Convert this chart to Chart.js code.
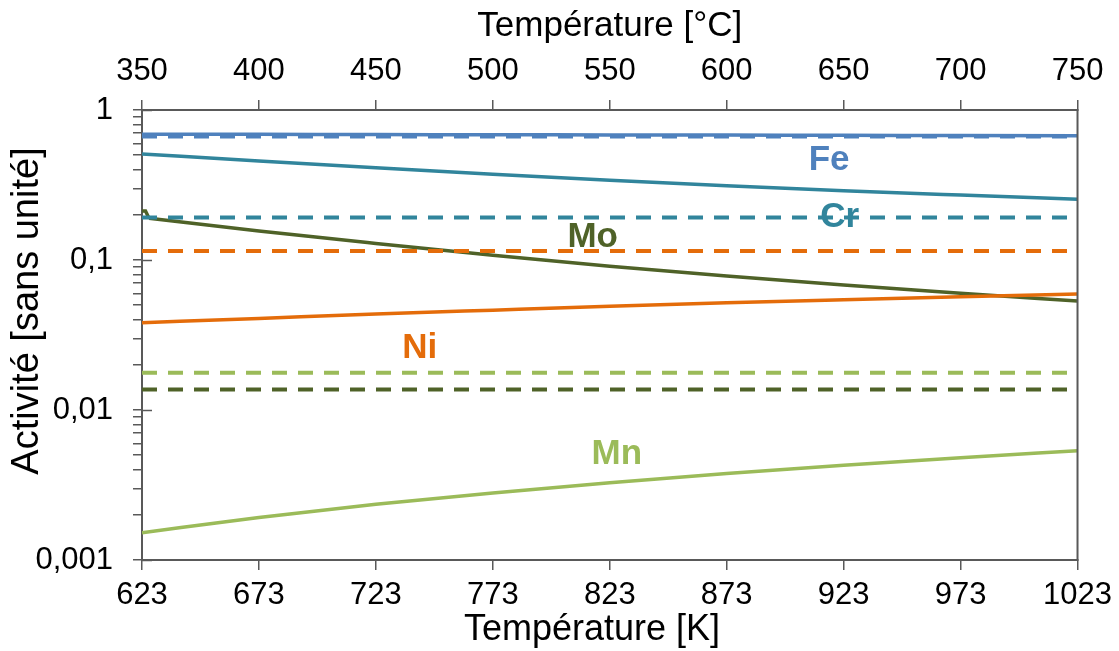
<!DOCTYPE html>
<html>
<head>
<meta charset="utf-8">
<script src="https://cdn.jsdelivr.net/npm/chart.js@4"></script>
<style>
  html, body { margin: 0; padding: 0; background: #fff; }
  #wrap { width: 1119px; height: 651px; }
</style>
</head>
<body>
<div id="wrap"><canvas id="activityChart"></canvas></div>
<script>
// temperatures (K) for the computed curves
const kelvin = [623, 673, 723, 773, 823, 873, 923, 973, 1023];
const moKelvin = [626, 673, 723, 773, 823, 873, 923, 973, 1023];
const moHookKelvin = [623, 624.5, 626];
const dashKelvin = [623, 1023];

// activities
const feActivity = [0.690, 0.688, 0.686, 0.684, 0.682, 0.680, 0.678, 0.676, 0.674];
const crActivity = [0.509, 0.457, 0.412, 0.373, 0.340, 0.313, 0.290, 0.271, 0.254];
const moActivity = [0.190, 0.156, 0.129, 0.1076, 0.0910, 0.0782, 0.0681, 0.0600, 0.0533];
const moHookActivity = [0.212, 0.212, 0.190];
const niActivity = [0.0382, 0.0408, 0.0436, 0.0463, 0.0491, 0.0518, 0.0543, 0.0568, 0.0593];
const mnActivity = [0.00152, 0.00192, 0.00235, 0.00280, 0.00327, 0.00377, 0.00428, 0.00480, 0.00535];

// dashed reference levels
const feRef = [0.665, 0.665];
const crRef = [0.192, 0.192];
const niRef = [0.115, 0.115];
const mnRef = [0.0177, 0.0177];
const moRef = [0.0137, 0.0137];

// axes
const kelvinTicks = [623, 673, 723, 773, 823, 873, 923, 973, 1023];
const celsiusTicks = [350, 400, 450, 500, 550, 600, 650, 700, 750];
const yMajorTicks = [0.001, 0.01, 0.1, 1];
const yMajorLabels = ['0,001', '0,01', '0,1', '1'];

// element names placed on the plot (K, activity)
const tagNames = ['Fe', 'Cr', 'Mo', 'Ni', 'Mn'];
const tagKelvin = [916.8, 921.3, 815.7, 741.8, 826];
const tagActivity = [0.398, 0.166, 0.122, 0.0222, 0.00437];

const colors = {
  Fe: '#4F81BD',
  Cr: '#31859C',
  Mo: '#4F6228',
  Ni: '#E46C0A',
  Mn: '#9BBB59'
};
const axisColor = '#595959';
const fontFamily = "'Liberation Sans', Arial, sans-serif";

function pts(xs, ys) {
  return xs.map((x, i) => ({ x: x, y: ys[i] }));
}

function solid(name, xs, ys, smooth) {
  return {
    label: name,
    data: pts(xs, ys),
    borderColor: colors[name],
    borderWidth: 3.5,
    pointRadius: 0,
    cubicInterpolationMode: smooth ? 'monotone' : 'default',
    tension: 0,
    fill: false
  };
}

function dashed(name, ys) {
  return {
    label: name + ' ref',
    data: pts(dashKelvin, ys),
    borderColor: colors[name],
    borderWidth: 4,
    borderDash: [15, 11],
    pointRadius: 0,
    fill: false
  };
}

function yMinorTicks() {
  const vals = [];
  for (let e = -3; e < 0; e++) {
    for (let m = 1; m <= 9; m++) {
      vals.push(parseFloat((m * Math.pow(10, e)).toPrecision(3)));
    }
  }
  vals.push(1);
  return vals;
}

function majorIndex(v) {
  return yMajorTicks.findIndex(t => Math.abs(t - v) < t * 1e-6);
}

const overlay = {
  id: 'overlay',
  beforeDatasetsDraw(chart) {
    const ctx = chart.ctx;
    const xs = chart.scales.x;
    const ys = chart.scales.y;
    ctx.save();
    ctx.font = 'bold 35px ' + fontFamily;
    ctx.textAlign = 'center';
    ctx.textBaseline = 'alphabetic';
    tagNames.forEach((name, i) => {
      ctx.fillStyle = colors[name];
      ctx.fillText(name, xs.getPixelForValue(tagKelvin[i]), ys.getPixelForValue(tagActivity[i]));
    });
    ctx.restore();
  },
  afterDraw(chart) {
    const ctx = chart.ctx;
    const area = chart.chartArea;
    const ys = chart.scales.y;
    ctx.save();
    ctx.strokeStyle = axisColor;
    ctx.lineWidth = 2;
    ctx.beginPath();
    ctx.moveTo(area.right, area.top - 1);
    ctx.lineTo(area.right, area.bottom + 1);
    ctx.stroke();
    // major y ticks also point inward
    ctx.lineWidth = 1.5;
    yMajorTicks.forEach(v => {
      const py = Math.round(ys.getPixelForValue(v)) + 0.5;
      ctx.beginPath();
      ctx.moveTo(area.left, py);
      ctx.lineTo(area.left + 10, py);
      ctx.stroke();
    });

    // axis titles (bottom and left)
    ctx.fillStyle = '#000';
    ctx.textAlign = 'center';
    ctx.textBaseline = 'middle';
    ctx.font = '36px ' + fontFamily;
    ctx.fillText('Température [K]', 592, 630);
    ctx.translate(28, 311);
    ctx.rotate(-Math.PI / 2);
    ctx.font = '38px ' + fontFamily;
    ctx.fillText('Activité [sans unité]', 0, 0);
    ctx.restore();
  }
};

const tickFont = { family: fontFamily, size: 31 };
const titleFont = { family: fontFamily, size: 35 };

new Chart(document.getElementById('activityChart'), {
  type: 'line',
  data: {
    datasets: [
      dashed('Fe', feRef),
      dashed('Cr', crRef),
      dashed('Ni', niRef),
      dashed('Mn', mnRef),
      dashed('Mo', moRef),
      solid('Fe', kelvin, feActivity, true),
      solid('Cr', kelvin, crActivity, true),
      solid('Ni', kelvin, niActivity, true),
      solid('Mo', moKelvin, moActivity, true),
      solid('Mo', moHookKelvin, moHookActivity, false),
      solid('Mn', kelvin, mnActivity, true)
    ]
  },
  options: {
    responsive: true,
    maintainAspectRatio: false,
    animation: false,
    layout: { padding: { left: 0, right: 41, top: 0, bottom: 0 } },
    plugins: {
      legend: { display: false },
      tooltip: { enabled: false }
    },
    scales: {
      x: {
        type: 'linear',
        position: 'bottom',
        min: 623,
        max: 1023,
        afterBuildTicks: s => { s.ticks = kelvinTicks.map(v => ({ value: v })); },
        afterFit: s => { s.height = 91; },
        ticks: {
          font: tickFont,
          color: '#000',
          padding: 7,
          autoSkip: false,
          maxRotation: 0,
          callback: v => String(v)
        },
        grid: { drawOnChartArea: false, tickLength: 10, color: axisColor, lineWidth: 1.5 },
        border: { color: axisColor, width: 2 }
      },
      xTop: {
        type: 'linear',
        position: 'top',
        min: 350,
        max: 750,
        afterBuildTicks: s => { s.ticks = celsiusTicks.map(v => ({ value: v })); },
        afterFit: s => { s.height = 110; },
        ticks: {
          font: tickFont,
          color: '#000',
          padding: 10,
          autoSkip: false,
          maxRotation: 0,
          callback: v => String(v)
        },
        grid: { drawOnChartArea: false, tickLength: 10, color: axisColor, lineWidth: 1.5 },
        border: { color: axisColor, width: 2 },
        title: {
          display: true,
          text: 'Température [°C]',
          font: titleFont,
          color: '#000',
          padding: { top: 5, bottom: 0 }
        }
      },
      y: {
        type: 'logarithmic',
        position: 'left',
        min: 0.001,
        max: 1,
        afterBuildTicks: s => { s.ticks = yMinorTicks().map(v => ({ value: v, major: majorIndex(v) >= 0 })); },
        afterFit: s => { s.width = 142; },
        ticks: {
          font: tickFont,
          color: '#000',
          padding: 20,
          autoSkip: false,
          callback: v => {
            const i = majorIndex(v);
            return i >= 0 ? yMajorLabels[i] : '';
          }
        },
        grid: { drawOnChartArea: false, tickLength: 9, color: axisColor, lineWidth: 1.5 },
        border: { color: axisColor, width: 2 }
      }
    }
  },
  plugins: [overlay]
});
</script>
</body>
</html>
